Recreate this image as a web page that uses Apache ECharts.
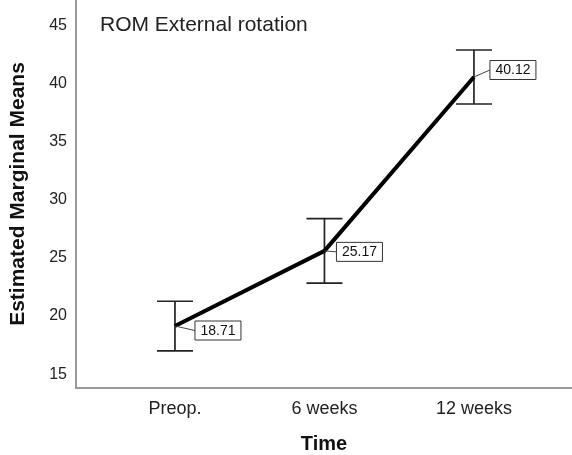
<!DOCTYPE html>
<html>
<head>
<meta charset="utf-8">
<script src="https://cdn.jsdelivr.net/npm/echarts@6/dist/echarts.min.js"></script>
<style>
html,body{margin:0;padding:0;background:#fff;}
#chart{width:572px;height:455px;}
</style>
</head>
<body>
<div id="chart"></div>
<script>
// ---- data ----
var categories = ['Preop.', '6 weeks', '12 weeks'];
var means = [18.71, 25.17, 40.12];
var ciLower = [16.58, 22.40, 37.80];
var ciUpper = [20.84, 27.94, 42.44];
var yTicks = [15, 20, 25, 30, 35, 40, 45];
var titleText = 'ROM External rotation';
var yName = 'Estimated Marginal Means';
var xName = 'Time';

// label box placement (style, pixels relative to point)
var labelDx = [20, 12, 16];
var labelDy = [4.5, 1, -7];

var FONT = '"Liberation Sans", Arial, sans-serif';

var lineData = means.map(function (m, i) { return [i, m]; });
var errData = means.map(function (m, i) { return [i, ciLower[i], ciUpper[i]]; });
var lblData = means.map(function (m, i) { return [i, m]; });

var chart = echarts.init(document.getElementById('chart'), null, {renderer: 'canvas'});
chart.setOption({
  animation: false,
  backgroundColor: '#fff',
  title: {
    text: titleText,
    left: 100, top: 15, padding: 0,
    textStyle: {fontFamily: FONT, fontSize: 21, fontWeight: 'normal', color: '#222'}
  },
  grid: {left: 76, right: 0, top: 0, bottom: 67, containLabel: false, outerBoundsMode: 'none'},
  xAxis: {
    type: 'value',
    min: -0.662, max: 2.656,
    name: xName, nameLocation: 'middle', nameGap: 46,
    nameTextStyle: {fontFamily: FONT, fontSize: 20, fontWeight: 'bold', color: '#111'},
    axisLine: {show: true, onZero: false, lineStyle: {color: '#999', width: 2}},
    axisTick: {show: false},
    splitLine: {show: false},
    axisLabel: {
      customValues: [0, 1, 2],
      margin: 12,
      fontFamily: FONT, fontSize: 18, color: '#222',
      formatter: function (v) { return categories[Math.round(v)] || ''; }
    }
  },
  yAxis: {
    type: 'value',
    min: 13.38, max: 46.74,
    name: yName, nameLocation: 'middle', nameGap: 47, nameRotate: 90,
    nameTextStyle: {fontFamily: FONT, fontSize: 21, fontWeight: 'bold', color: '#111'},
    axisLine: {show: true, onZero: false, lineStyle: {color: '#999', width: 2}},
    axisTick: {show: false},
    splitLine: {show: false},
    axisLabel: {
      customValues: yTicks,
      margin: 9,
      verticalAlign: 'top',
      lineHeight: 10,
      fontFamily: FONT, fontSize: 16, color: '#222'
    }
  },
  series: [
    {
      type: 'custom',
      data: errData,
      z: 2,
      renderItem: function (params, api) {
        var x = api.value(0);
        var lo = api.coord([x, api.value(1)]);
        var hi = api.coord([x, api.value(2)]);
        var hw = 18;
        var st = {stroke: '#222', lineWidth: 1.7};
        return {
          type: 'group',
          children: [
            {type: 'line', shape: {x1: lo[0], y1: lo[1], x2: hi[0], y2: hi[1]}, style: st},
            {type: 'line', shape: {x1: lo[0] - hw, y1: lo[1], x2: lo[0] + hw, y2: lo[1]}, style: st},
            {type: 'line', shape: {x1: hi[0] - hw, y1: hi[1], x2: hi[0] + hw, y2: hi[1]}, style: st}
          ]
        };
      }
    },
    {
      type: 'line',
      data: lineData,
      z: 3,
      symbol: 'none',
      lineStyle: {color: '#000', width: 4}
    },
    {
      type: 'custom',
      data: lblData,
      z: 4,
      renderItem: function (params, api) {
        var i = params.dataIndex;
        var p = api.coord([api.value(0), api.value(1)]);
        var txt = means[i].toFixed(2);
        var bx = p[0] + labelDx[i];
        var by = p[1] + labelDy[i];
        var w = 46, h = 19;
        return {
          type: 'group',
          children: [
            {type: 'line', shape: {x1: p[0], y1: p[1], x2: bx, y2: by}, style: {stroke: '#444', lineWidth: 1}},
            {type: 'rect', shape: {x: bx, y: by - h / 2, width: w, height: h}, style: {fill: '#fff', stroke: '#333', lineWidth: 1}},
            {type: 'text', style: {text: txt, x: bx + w / 2, y: by + 0.5, align: 'center', verticalAlign: 'middle', font: '14px ' + FONT, fill: '#111'}}
          ]
        };
      }
    }
  ]
});
</script>
</body>
</html>
